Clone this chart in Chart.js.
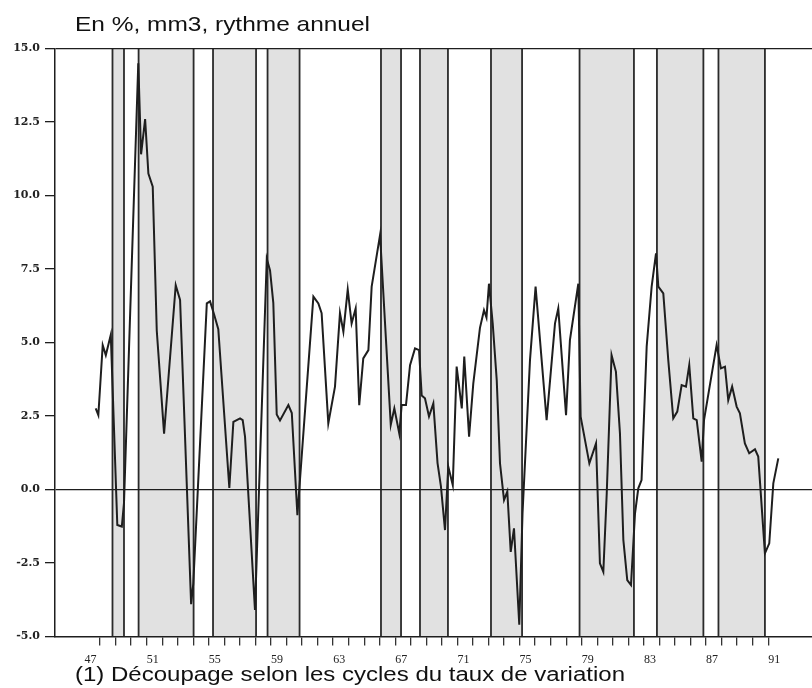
<!DOCTYPE html>
<html>
<head>
<meta charset="utf-8">
<script src="https://cdn.jsdelivr.net/npm/chart.js@4.4.1/dist/chart.umd.min.js"></script>
<style>
  html, body { margin: 0; padding: 0; background: #fff; }
  #wrap { width: 812px; height: 688px; }
</style>
</head>
<body>
<div id="wrap"><canvas id="chart" width="812" height="688"></canvas></div>
<script>
// Quarterly annualised growth rate (%), by decimal year
const quarterDates = [
  1947.72, 1947.89, 1948.17, 1948.37, 1948.69, 1949.11, 1949.40, 1949.54,
  1950.46, 1950.64, 1950.90, 1951.11, 1951.39, 1951.65, 1952.12, 1952.87,
  1953.15, 1953.86, 1954.00, 1954.87, 1955.08, 1955.34, 1955.61, 1956.32,
  1956.58, 1957.01, 1957.18, 1957.33, 1957.97, 1958.73, 1958.94, 1959.15,
  1959.37, 1959.58, 1960.12, 1960.34, 1960.70, 1961.73, 1962.05, 1962.26,
  1962.69, 1963.12, 1963.44, 1963.66, 1963.94, 1964.19, 1964.45, 1964.68,
  1964.94, 1965.27, 1965.48, 1966.02, 1966.71, 1966.94, 1967.26, 1967.41,
  1967.69, 1967.95, 1968.27, 1968.53, 1968.70, 1968.91, 1969.17, 1969.45,
  1969.72, 1969.94, 1970.20, 1970.41, 1970.70, 1970.95, 1971.28, 1971.44,
  1971.75, 1972.02, 1972.45, 1972.71, 1972.87, 1973.03, 1973.27, 1973.53,
  1973.74, 1974.00, 1974.21, 1974.43, 1974.64, 1974.98, 1975.19, 1975.67,
  1976.03, 1976.74, 1977.28, 1977.49, 1977.99, 1978.24, 1978.78, 1978.93,
  1979.49, 1979.92, 1980.17, 1980.39, 1980.61, 1980.92, 1981.20, 1981.46,
  1981.68, 1981.93, 1982.17, 1982.43, 1982.64, 1982.85, 1983.18, 1983.50,
  1983.78, 1983.93, 1984.25, 1984.57, 1984.89, 1985.15, 1985.43, 1985.71,
  1985.92, 1986.18, 1986.40, 1986.72, 1986.87, 1987.68, 1987.96, 1988.22,
  1988.43, 1988.68, 1988.97, 1989.18, 1989.50, 1989.78, 1990.15, 1990.36,
  1990.79, 1991.07, 1991.33, 1991.65
];
const growthRate = [
  2.76, 2.53, 4.91, 4.57, 5.26, -1.21, -1.26, -0.46,
  14.5, 11.4, 12.6, 10.75, 10.3, 5.4, 1.9, 6.95,
  6.45, -3.9, -3.2, 6.33, 6.4, 5.95, 5.45, 0.05,
  2.3, 2.42, 2.36, 1.8, -4.1, 7.85, 7.45, 6.35,
  2.55, 2.35, 2.87, 2.6, -0.87, 6.56, 6.33, 6.0,
  2.25, 3.5, 6.0, 5.37, 6.8, 5.65, 6.16, 2.87,
  4.46, 4.74, 6.9, 8.66, 2.2, 2.76, 1.9, 2.87,
  2.87, 4.23, 4.8, 4.74, 3.2, 3.1, 2.48, 2.93,
  0.9, 0.1, -1.38, 0.78, 0.15, 4.18, 2.76, 4.52,
  1.8, 3.6, 5.5, 6.1, 5.85, 7.0, 5.65, 3.72,
  0.89, -0.36, -0.07, -2.12, -1.32, -4.6, -0.81, 4.4,
  6.9, 2.36, 5.65, 6.16, 2.53, 5.08, 7.0, 2.48,
  0.89, 1.57, -2.51, -2.8, -0.13, 4.57, 4.01, 1.91,
  -1.72, -3.08, -3.25, -0.81, 0.04, 0.32, 4.86, 6.9,
  8.03, 6.9, 6.67, 4.4, 2.42, 2.65, 3.55, 3.5,
  4.23, 2.42, 2.36, 0.95, 2.36, 4.91, 4.12, 4.18,
  3.04, 3.5, 2.82, 2.59, 1.57, 1.23, 1.37, 1.12,
  -2.17, -1.83, 0.21, 1.06
];

// Slowdown phases of the growth-rate cycle (shaded)
const bandStarts = [1948.80, 1950.48, 1955.27, 1958.78, 1966.08, 1968.59, 1973.16, 1978.86, 1983.84, 1987.80];
const bandEnds   = [1949.54, 1954.02, 1958.04, 1960.84, 1967.37, 1970.39, 1975.16, 1982.36, 1986.83, 1990.79];

// Axis ticks
const yearTicks = [];
for (let y = 1947; y <= 1991; y++) yearTicks.push(y);
const labelYears = [1947, 1951, 1955, 1959, 1963, 1967, 1971, 1975, 1979, 1983, 1987, 1991];
const yTicks = [-5, -2.5, 0, 2.5, 5, 7.5, 10, 12.5, 15];

const titleText = 'En %, mm3, rythme annuel';
const footnoteText = '(1) Découpage selon les cycles du taux de variation';

const INK = '#1e1e1e';

const bandsPlugin = {
  id: 'cycleBands',
  beforeDraw(chart) {
    const { ctx, chartArea: { top, bottom }, scales: { x } } = chart;
    ctx.save();
    ctx.fillStyle = '#ffffff';
    ctx.fillRect(0, 0, chart.width, chart.height);
    bandStarts.forEach((s, i) => {
      const x0 = x.getPixelForValue(s);
      const x1 = x.getPixelForValue(bandEnds[i]);
      ctx.fillStyle = '#e1e1e1';
      ctx.fillRect(x0, top, x1 - x0, bottom - top);
      ctx.strokeStyle = '#2a2a2a';
      ctx.lineWidth = 1.8;
      [x0, x1].forEach(px => {
        ctx.beginPath();
        ctx.moveTo(px, top);
        ctx.lineTo(px, bottom);
        ctx.stroke();
      });
    });
    ctx.restore();
  }
};

// Wide-set sans caption: draws text at a given size, stretched to a given width
function drawWide(ctx, text, x, y, size, width) {
  ctx.save();
  ctx.font = size + 'px "Liberation Sans", Arial, sans-serif';
  const w = ctx.measureText(text).width;
  ctx.translate(x, y);
  ctx.scale(width / w, 1);
  ctx.fillText(text, 0, 0);
  ctx.restore();
}

const textPlugin = {
  id: 'captions',
  afterDraw(chart) {
    const { ctx } = chart;
    ctx.save();
    ctx.fillStyle = '#111';
    ctx.textAlign = 'left';
    ctx.textBaseline = 'alphabetic';
    drawWide(ctx, titleText, 75, 31, 21, 295);
    drawWide(ctx, footnoteText, 75, 681, 19.5, 550);
    ctx.restore();
  }
};

new Chart(document.getElementById('chart'), {
  type: 'line',
  data: {
    datasets: [{
      data: quarterDates.map((d, i) => ({ x: d, y: growthRate[i] })),
      borderColor: INK,
      borderWidth: 2,
      pointRadius: 0,
      tension: 0,
      fill: false
    }]
  },
  options: {
    responsive: false,
    animation: false,
    devicePixelRatio: 1,
    layout: { padding: { top: 48.5, right: 0, bottom: 0, left: 0 } },
    plugins: { legend: { display: false }, tooltip: { enabled: false }, title: { display: false } },
    scales: {
      x: {
        type: 'linear',
        min: 1945.1,
        max: 1993.82,
        afterBuildTicks: s => { s.ticks = yearTicks.map(v => ({ value: v })); },
        afterFit: s => { s.height = 51.5; },
        ticks: {
          autoSkip: false,
          maxRotation: 0,
          minRotation: 0,
          labelOffset: 6,
          padding: 7,
          color: '#222',
          font: { family: '"Liberation Serif", serif', size: 12 },
          callback: v => labelYears.includes(v) ? String(v).slice(2) : ''
        },
        grid: {
          drawOnChartArea: false,
          tickLength: 9,
          lineWidth: 1.3,
          tickColor: c => (c.tick && c.tick.value >= 1948) ? '#333' : 'rgba(0,0,0,0)'
        },
        border: { color: INK, width: 1.5 }
      },
      y: {
        min: -5,
        max: 15,
        afterBuildTicks: s => { s.ticks = yTicks.map(v => ({ value: v })); },
        afterFit: s => { s.width = 55; },
        ticks: {
          padding: 5,
          color: '#222',
          font: { family: '"DejaVu Serif", serif', size: 11, weight: 'bold' },
          callback: v => Number(v).toFixed(1)
        },
        grid: {
          tickLength: 10,
          lineWidth: 1.3,
          color: c => (c.tick && (c.tick.value === 15 || c.tick.value === 0)) ? INK : 'rgba(0,0,0,0)',
          tickColor: INK
        },
        border: { color: INK, width: 1.5 }
      }
    }
  },
  plugins: [bandsPlugin, textPlugin]
});
</script>
</body>
</html>
